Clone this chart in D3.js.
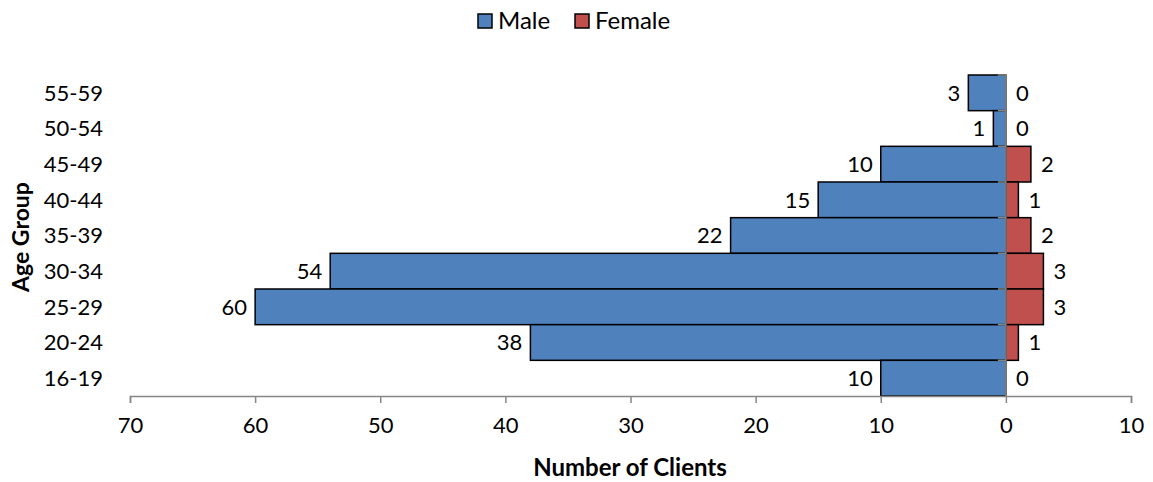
<!DOCTYPE html>
<html>
<head>
<meta charset="utf-8">
<script src="https://cdn.jsdelivr.net/npm/d3@7"></script>
<style>
  body { margin: 0; background: #fff; }
  svg text { font-family: Lato, "Open Sans", sans-serif; fill: #000; }
</style>
</head>
<body>
<svg id="base" width="1153" height="482"></svg>
<script>
// data, top row first
const ageGroups = ["55-59", "50-54", "45-49", "40-44", "35-39", "30-34", "25-29", "20-24", "16-19"];
const maleCounts = [3, 1, 10, 15, 22, 54, 60, 38, 10];
const femaleCounts = [0, 0, 2, 1, 2, 3, 3, 1, 0];
const xTicks = [-70, -60, -50, -40, -30, -20, -10, 0, 10];
const seriesNames = ["Male", "Female"];
const colors = ["#4f81bd", "#c0504d"];

const base = d3.select("#base");

const margin = { left: 130, right: 22, top: 75, bottom: 86 };
const width = 1153, height = 482;

const x = d3.scaleLinear()
    .domain([-70, 10])
    .range([margin.left, width - margin.right]);

const y = d3.scaleBand()
    .domain(ageGroups)
    .range([margin.top, height - margin.bottom])
    .padding(0);

const rows = ageGroups.map((g, i) => ({ group: g, male: maleCounts[i], female: femaleCounts[i] }));

// bars
base.append("g").selectAll("rect")
    .data(rows)
    .enter()
    .append("rect")
    .attr("x", d => x(-d.male))
    .attr("y", d => y(d.group))
    .attr("width", d => x(0) - x(-d.male))
    .attr("height", y.bandwidth())
    .attr("fill", colors[0])
    .attr("stroke", "#000")
    .attr("stroke-width", 1.5);

base.append("g").selectAll("rect")
    .data(rows.filter(d => d.female > 0))
    .enter()
    .append("rect")
    .attr("x", x(0))
    .attr("y", d => y(d.group))
    .attr("width", d => x(d.female) - x(0))
    .attr("height", y.bandwidth())
    .attr("fill", colors[1])
    .attr("stroke", "#000")
    .attr("stroke-width", 1.5);

// value labels
base.append("g").selectAll("text")
    .data(rows)
    .enter()
    .append("text")
    .attr("x", d => x(-d.male) - 8)
    .attr("y", d => y(d.group) + y.bandwidth() / 2)
    .attr("dy", "0.35em")
    .attr("text-anchor", "end")
    .style("font-size", "22px")
    .text(d => d.male);

base.append("g").selectAll("text")
    .data(rows)
    .enter()
    .append("text")
    .attr("x", d => x(d.female) + 10)
    .attr("y", d => y(d.group) + y.bandwidth() / 2)
    .attr("dy", "0.35em")
    .style("font-size", "22px")
    .text(d => d.female);

// x axis
const xAxis = base.append("g")
    .attr("transform", `translate(0,${height - margin.bottom})`)
    .call(d3.axisBottom(x).tickValues(xTicks).tickFormat(d => Math.abs(d)).tickSizeOuter(0).tickSize(7).tickPadding(14));
xAxis.select(".domain").attr("stroke", "#868686").attr("stroke-width", 1.5);
xAxis.selectAll(".tick line").attr("stroke", "#868686").attr("stroke-width", 1.5);
xAxis.selectAll(".tick text").style("font-size", "22px");

// y axis at zero, ticks between categories
const yAxis = base.append("g")
    .attr("transform", `translate(${x(0)},0)`);
yAxis.append("line")
    .attr("y1", y.range()[0])
    .attr("y2", y.range()[1])
    .attr("stroke", "#868686")
    .attr("stroke-width", 1.5);
yAxis.selectAll(".sep")
    .data(ageGroups)
    .enter()
    .append("line")
    .attr("x1", -8)
    .attr("x2", 0)
    .attr("y1", d => y(d))
    .attr("y2", d => y(d))
    .attr("stroke", "#868686")
    .attr("stroke-width", 1.5);

// category labels on the left
base.append("g").selectAll("text")
    .data(ageGroups)
    .enter()
    .append("text")
    .attr("x", 103)
    .attr("y", d => y(d) + y.bandwidth() / 2)
    .attr("dy", "0.35em")
    .attr("text-anchor", "end")
    .style("font-size", "22px")
    .text(d => d);

// axis titles
base.append("text")
    .attr("x", 630)
    .attr("y", 476)
    .attr("text-anchor", "middle")
    .style("font-size", "24px")
    .style("font-weight", "bold")
    .text("Number of Clients");

base.append("text")
    .attr("transform", "translate(29,237) rotate(-90)")
    .attr("text-anchor", "middle")
    .style("font-size", "23px")
    .style("font-weight", "bold")
    .text("Age Group");

// legend
const legend = base.append("g").attr("id", "legend");
const legendX = [478, 575];
seriesNames.forEach((name, i) => {
    legend.append("rect")
        .attr("x", legendX[i])
        .attr("y", 14)
        .attr("width", 14)
        .attr("height", 14)
        .attr("fill", colors[i])
        .attr("stroke", "#000")
        .attr("stroke-width", 1.5);
    legend.append("text")
        .attr("x", legendX[i] + 20)
        .attr("y", 21)
        .attr("dy", "0.35em")
        .style("font-size", "24px")
        .text(name);
});
</script>
</body>
</html>
